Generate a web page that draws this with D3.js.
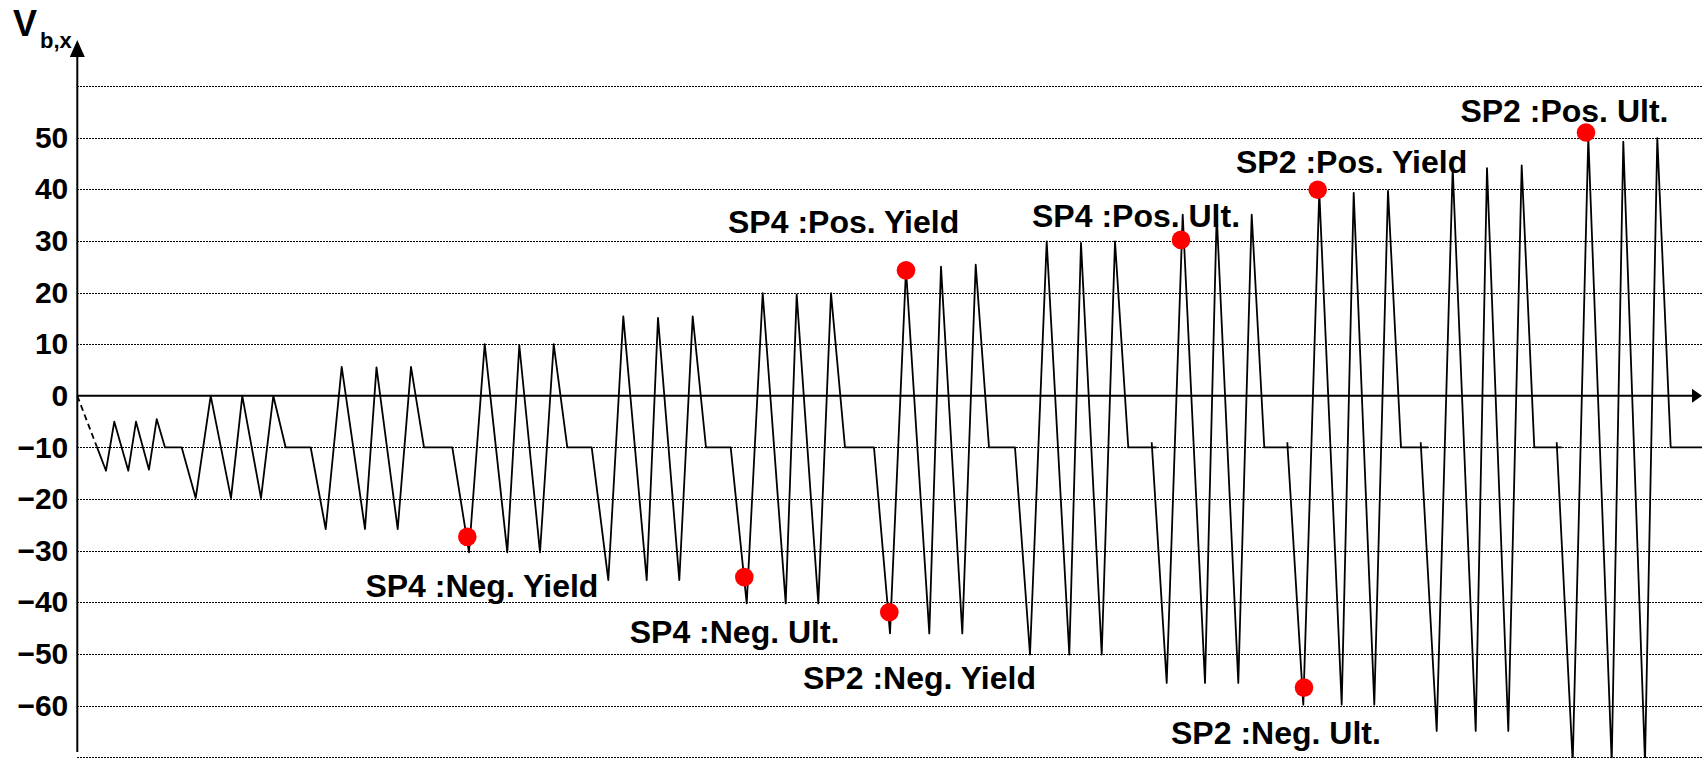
<!DOCTYPE html>
<html>
<head>
<meta charset="utf-8">
<script src="https://cdn.jsdelivr.net/npm/d3@7"></script>
<style>
  html, body { margin: 0; padding: 0; background: #fff; }
  svg { display: block; font-family: "Liberation Sans", Arial, Helvetica, sans-serif; font-weight: bold; }
</style>
</head>
<body>
<svg id="chart" width="1702" height="758"></svg>
<script>
// Loading history: step index (t) and base shear V_b,x at each turning point.
// Where t steps backwards, a new stroke starts (the next excursion begins
// slightly before the end of the preceding hold at -10).
const leadT = [0, 1.94];
const leadV = [0, -9.8];

const stepT = [
  1.94, 2.87, 3.70, 5.10, 5.87, 7.17, 7.94, 8.77, 10.44,
  11.84, 13.34, 15.37, 16.50, 18.37, 19.60, 20.84, 23.34,
  24.84, 26.44, 28.77, 29.92, 32.04, 33.37, 34.67, 37.50,
  39.17, 40.74, 43.00, 44.20, 46.27, 47.64, 49.00, 51.44,
  53.10, 54.60, 56.94, 58.07, 60.20, 61.54, 62.87, 65.34,
  66.94, 68.54, 70.84, 71.94, 74.10, 75.37, 76.77, 79.67,
  81.27, 82.87, 85.20, 86.37, 88.50, 89.84, 91.17, 93.77,
  95.27, 96.94, 99.20, 100.37, 102.44, 103.77, 105.10, 107.94, 107.44,
  108.94, 110.54, 112.77, 113.94, 116.10, 117.44, 118.70, 121.44, 121.00,
  122.60, 124.20, 126.44, 127.64, 129.70, 131.07, 132.37, 135.10, 134.34,
  135.94, 137.54, 139.84, 140.97, 143.10, 144.44, 145.70, 148.44, 147.94,
  149.54, 151.10, 153.44, 154.60, 156.77, 158.00, 159.34, 162.5
];

const shearV = [
  -9.8, -14.5, -5, -14.5, -5, -14.3, -4.5, -10, -10,
  -19.8, 0, -19.8, 0, -19.8, 0, -10, -10,
  -25.8, 5.6, -25.8, 5.5, -25.8, 5.6, -10, -10,
  -30.3, 10, -30.3, 9.8, -30.3, 10, -10, -10,
  -35.7, 15.4, -35.7, 15.1, -35.7, 15.4, -10, -10,
  -40.2, 19.9, -40.2, 19.6, -40.2, 19.9, -10, -10,
  -46, 24.5, -46, 25, -46, 25.4, -10, -10,
  -50.1, 29.9, -50.1, 29.6, -50.1, 29.9, -10, -10, -9,
  -55.6, 35.1, -55.6, 35.1, -55.6, 35.1, -10, -10, -9,
  -59.8, 39.5, -59.8, 39.3, -59.8, 39.7, -10, -10, -9,
  -64.9, 44.1, -64.9, 44.1, -64.9, 44.6, -10, -10, -9,
  -71, 50, -71, 49.2, -71, 49.9, -10, -10
];

// Yield / ultimate events of the two specimens.
const eventNames = [
  "SP4 :Neg. Yield", "SP4 :Neg. Ult.", "SP2 :Neg. Yield", "SP4 :Pos. Yield",
  "SP4 :Pos. Ult.", "SP2 :Pos. Yield", "SP2 :Neg. Ult.", "SP2 :Pos. Ult."
];
const eventT = [39.0, 66.7, 81.2, 82.87, 110.37, 124.04, 122.67, 150.87];
const eventV = [-27.3, -35.1, -41.9, 24.3, 30.2, 39.9, -56.5, 51];

const tickLabels = [-60, -50, -40, -30, -20, -10, 0, 10, 20, 30, 40, 50];
const gridLevels = [-70, -60, -50, -40, -30, -20, -10, 10, 20, 30, 40, 50, 60];

// Layout
const W = 1702, H = 758;
const x0 = 77.3;
const x = d3.scaleLinear().domain([0, 162.5]).range([x0, 1702.3]);
const y = d3.scaleLinear().domain([-70, 60]).range([757.3, 86]);

// Label placement (text start x, baseline y) in pixels
const labelLayout = [
  [365.4, 597.3], [629.7, 643.3], [803, 689.3], [728, 233.3],
  [1032, 227.3], [1236, 173], [1171, 743.6], [1460.4, 122.3]
];

const svg = d3.select("#chart");

// Dotted horizontal gridlines
const grid = svg.append("g").attr("class", "grid")
  .attr("transform", `translate(${x0},0)`)
  .call(d3.axisLeft(y).tickValues(gridLevels).tickSize(-(W - x0)).tickFormat(""));
grid.select(".domain").remove();
grid.selectAll(".tick line")
  .attr("stroke", "#000")
  .attr("stroke-width", 1)
  .attr("shape-rendering", "crispEdges")
  .attr("stroke-dasharray", "1.5,1.5");

// Tick labels
const yAxis = svg.append("g")
  .attr("transform", `translate(${x0},0)`)
  .call(d3.axisLeft(y).tickValues(tickLabels).tickSize(0).tickPadding(9).tickFormat(d3.format("d")));
yAxis.select(".domain").remove();
yAxis.selectAll("text")
  .attr("font-size", 30)
  .attr("font-weight", "bold")
  .attr("font-family", "'Liberation Sans', Arial, sans-serif")
  .attr("fill", "#000");

// Axis lines with arrowheads
svg.append("line")
  .attr("x1", x0).attr("x2", x0)
  .attr("y1", 752).attr("y2", 52)
  .attr("stroke", "#000").attr("stroke-width", 2);
svg.append("path")
  .attr("d", `M${x0},40 L${x0 - 7.5},57 L${x0 + 7.5},57 Z`)
  .attr("fill", "#000");

svg.append("line")
  .attr("x1", x0).attr("x2", 1694)
  .attr("y1", y(0)).attr("y2", y(0))
  .attr("stroke", "#000").attr("stroke-width", 2);
svg.append("path")
  .attr("d", `M1702,${y(0)} L1692,${y(0) - 7} L1692,${y(0) + 7} Z`)
  .attr("fill", "#000");

// Axis title V_b,x
const title = svg.append("text").attr("fill", "#000");
title.append("tspan").attr("x", 13).attr("y", 36).attr("font-size", 36).text("V");
title.append("tspan").attr("x", 40).attr("y", 48.3).attr("font-size", 22).text("b,x");

// Event labels
svg.append("g").selectAll("text")
  .data(eventNames)
  .join("text")
  .attr("x", (d, i) => labelLayout[i][0])
  .attr("y", (d, i) => labelLayout[i][1])
  .attr("font-size", 32)
  .attr("fill", "#000")
  .text(d => d);

// Loading history line
const line = d3.line().x(d => x(d[0])).y(d => y(d[1]));

svg.append("path")
  .datum(d3.zip(leadT, leadV))
  .attr("d", line)
  .attr("fill", "none")
  .attr("stroke", "#000")
  .attr("stroke-width", 1.8)
  .attr("stroke-dasharray", "6,4");

// Split into strokes wherever the step index goes backwards
const pts = d3.zip(stepT, shearV);
const strokes = [[pts[0]]];
for (let i = 1; i < pts.length; i++) {
  if (pts[i][0] < pts[i - 1][0]) strokes.push([]);
  strokes[strokes.length - 1].push(pts[i]);
}

svg.append("g").selectAll("path")
  .data(strokes)
  .join("path")
  .attr("d", line)
  .attr("fill", "none")
  .attr("stroke", "#000")
  .attr("stroke-width", 1.8)
  .attr("stroke-linejoin", "round");

// Event markers
svg.append("g").selectAll("circle")
  .data(d3.zip(eventT, eventV))
  .join("circle")
  .attr("cx", d => x(d[0]))
  .attr("cy", d => y(d[1]))
  .attr("r", 9.3)
  .attr("fill", "#ff0000");
</script>
</body>
</html>
